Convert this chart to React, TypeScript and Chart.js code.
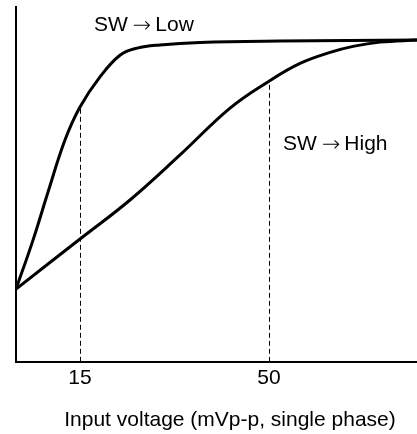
import React, { useEffect, useRef } from "react";
import { Chart, registerables } from "chart.js";

Chart.register(...registerables);

// Input voltage (mVp-p) sample positions and relative output levels
const lowX = [3.15, 6.3, 9.07, 12.22, 15, 18.7, 22.4, 25.56, 29.8, 37.2, 52, 77.4];
const lowY = [20.5, 34.3, 47.8, 62.5, 71.8, 80.3, 86.4, 88.4, 89.3, 90.0, 90.4, 90.7];
const highX = [3.15, 15, 24.26, 33.52, 42.78, 50, 55.74, 61.3, 65.56, 70.56, 77.4];
const highY = [20.5, 34.6, 45.6, 58.3, 71.5, 79.1, 84.1, 87.2, 88.9, 90.1, 90.7];

const tickValues = [15, 50];
const xTitle = "Input voltage (mVp-p, single phase)";
const labelLeft = ["SW", "SW"];
const labelRight = ["Low", "High"];
const labelX = [17.6, 52.6];
const labelY = [94.8, 61.2];

const X_MIN = 3.15;
const X_MAX = 77.4;

const FONT = "'Liberation Sans', Arial, sans-serif";

export default function App() {
  const ref = useRef<HTMLCanvasElement | null>(null);
  useEffect(() => {
    document.body.style.margin = "0";
    const canvas = ref.current;
    if (!canvas) return;
    const lowAt15 = lowY[lowX.indexOf(15)];
    const highAt50 = highY[highX.indexOf(50)];
    const textPlugin = {
      id: "curveLabels",
      beforeDatasetDraw(chart: any, args: any) {
        if (args.index >= 2) {
          chart.ctx.save();
          chart.ctx.translate(0.5, 0);
        }
      },
      afterDatasetDraw(chart: any, args: any) {
        if (args.index >= 2) chart.ctx.restore();
      },
      afterDatasetsDraw(chart: any) {
        const { ctx, scales } = chart;
        ctx.save();
        ctx.fillStyle = "#000";
        ctx.textBaseline = "middle";
        ctx.textAlign = "left";
        labelLeft.forEach((t, i) => {
          let x = scales.x.getPixelForValue(labelX[i]);
          const y = scales.y.getPixelForValue(labelY[i]);
          ctx.font = `21px ${FONT}`;
          ctx.fillText(t, x, y);
          x += ctx.measureText(t).width + 5;
          ctx.font = `200 22px 'DejaVu Sans'`;
          ctx.fillText("\u2192", x, y + 1);
          x += ctx.measureText("\u2192").width + 4;
          ctx.font = `21px ${FONT}`;
          ctx.fillText(labelRight[i], x, y);
        });
        // axis title
        ctx.font = `21px ${FONT}`;
        ctx.textAlign = "center";
        ctx.fillText(xTitle, 230, 420);
        ctx.restore();
      },
    };
    const chart = new Chart(canvas, {
      type: "line",
      data: {
        datasets: [
          {
            data: lowX.map((x, i) => ({ x, y: lowY[i] })),
            borderColor: "#000",
            borderWidth: 3,
            pointRadius: 0,
            tension: 0.4,
            fill: false,
          },
          {
            data: highX.map((x, i) => ({ x, y: highY[i] })),
            borderColor: "#000",
            borderWidth: 3,
            pointRadius: 0,
            tension: 0.4,
            fill: false,
          },
          {
            data: [
              { x: 15, y: 0 },
              { x: 15, y: lowAt15 },
            ],
            borderColor: "#000",
            borderWidth: 1,
            borderDash: [5, 3],
            pointRadius: 0,
          },
          {
            data: [
              { x: 50, y: 0 },
              { x: 50, y: highAt50 },
            ],
            borderColor: "#000",
            borderWidth: 1,
            borderDash: [5, 3],
            pointRadius: 0,
          },
        ],
      },
      options: {
        animation: false,
        responsive: true,
        maintainAspectRatio: false,
        layout: { padding: { left: 16, top: 7, right: 0, bottom: 39 } },
        plugins: { legend: { display: false }, tooltip: { enabled: false }, title: { display: false } },
        scales: {
          x: {
            type: "linear",
            min: X_MIN,
            max: X_MAX,
            afterBuildTicks(axis: any) {
              axis.ticks = tickValues.map((v) => ({ value: v }));
            },
            grid: { display: false, drawTicks: false },
            border: { display: true, color: "#000", width: 2 },
            ticks: {
              color: "#000",
              font: { family: FONT, size: 21 },
              padding: 4,
              maxRotation: 0,
              autoSkip: false,
              callback: (v: any) => String(v),
            },
            title: { display: false },
          },
          y: {
            min: 0,
            max: 100,
            grid: { display: false, drawTicks: false },
            border: { display: true, color: "#000", width: 2 },
            ticks: { display: false },
          },
        },
      },
      plugins: [textPlugin],
    });
    return () => chart.destroy();
  }, []);
  return (
    <div style={{ position: "relative", width: 417, height: 434 }}>
      <canvas ref={ref} />
    </div>
  );
}
